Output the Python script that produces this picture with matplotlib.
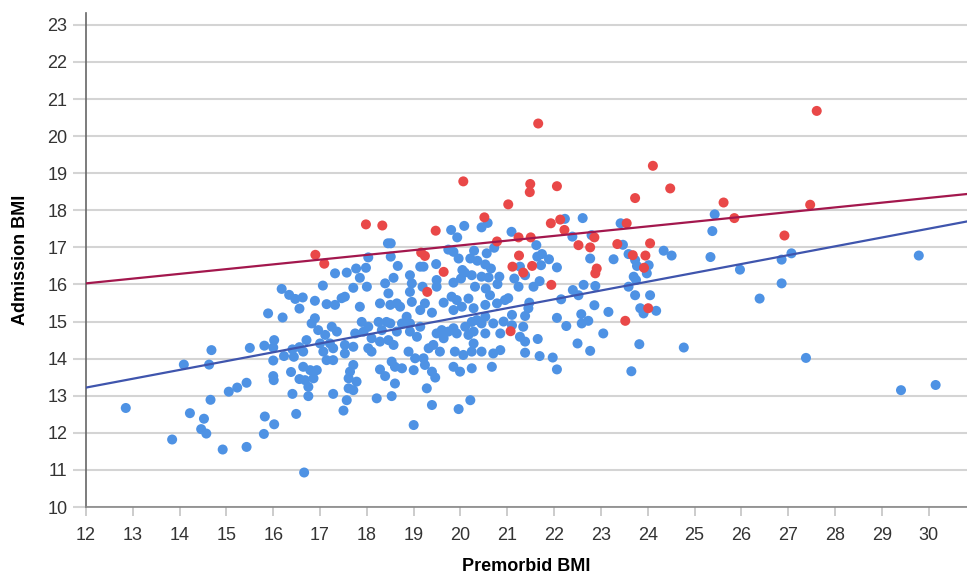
import matplotlib
matplotlib.use("Agg")
import matplotlib.pyplot as plt
import numpy as np

plt.rcParams['font.family'] = ['Liberation Sans', 'DejaVu Sans']

# Premorbid BMI vs admission BMI
blue_pts = [
    (12.85, 12.67), (13.84, 11.82), (14.22, 12.53), (14.52, 12.38), (14.46, 12.10),
    (14.57, 11.98), (14.66, 12.89), (14.92, 11.55), (15.05, 13.11), (15.23, 13.22),
    (15.43, 13.35), (15.43, 11.62), (15.82, 12.44), (15.80, 11.97), (16.02, 12.23),
    (16.01, 13.42), (16.41, 13.05), (16.49, 12.51), (16.66, 10.93),
    (16.18, 15.88), (16.34, 15.72), (16.47, 15.61), (16.56, 15.35), (15.89, 15.22),
    (16.20, 15.11), (16.02, 14.50), (15.81, 14.35), (16.00, 14.30), (15.50, 14.29),
    (14.68, 14.23), (16.41, 14.25), (16.56, 14.31), (16.23, 14.07), (16.44, 14.05),
    (16.00, 13.95), (14.09, 13.84), (14.63, 13.84), (16.38, 13.64), (16.00, 13.53),
    (16.56, 13.45),
    (19.80, 17.47), (20.08, 17.58), (19.93, 17.27), (20.45, 17.54), (20.58, 17.66),
    (18.45, 17.11), (18.51, 17.11), (18.03, 16.73), (18.51, 16.75), (18.66, 16.50),
    (17.32, 16.30), (17.57, 16.32), (17.77, 16.43), (17.98, 16.45), (17.85, 16.18),
    (17.06, 15.97), (17.71, 15.91), (18.00, 15.94), (18.39, 16.03), (18.57, 16.18),
    (18.92, 16.25), (18.96, 16.03), (19.14, 16.48), (19.21, 16.48), (19.48, 16.55),
    (19.19, 15.94), (19.49, 16.12), (19.49, 15.94), (19.74, 16.94), (19.85, 16.88),
    (19.96, 16.70), (20.21, 16.70), (20.29, 16.91), (20.36, 16.64), (20.56, 16.84),
    (20.72, 16.99), (20.53, 16.54), (20.65, 16.43), (20.04, 16.39), (20.09, 16.32),
    (20.24, 16.25), (20.45, 16.21), (20.60, 16.19), (20.83, 16.21), (19.85, 16.05),
    (20.01, 16.16), (20.31, 15.94), (20.54, 15.89), (20.79, 16.01),
    (16.63, 15.65), (16.89, 15.56), (17.14, 15.47), (17.32, 15.45), (17.46, 15.63),
    (17.53, 15.67), (17.85, 15.40), (18.28, 15.49), (18.46, 15.76), (18.50, 15.45),
    (18.64, 15.49), (18.71, 15.40), (18.92, 15.80), (18.96, 15.53), (19.14, 15.31),
    (19.24, 15.49), (19.39, 15.24), (19.64, 15.51), (19.81, 15.67), (19.92, 15.58),
    (19.85, 15.31), (20.03, 15.40), (20.17, 15.62), (20.28, 15.36), (20.63, 15.71),
    (20.53, 15.45), (20.78, 15.49),
    (16.82, 14.95), (16.89, 15.09), (16.71, 14.50), (16.64, 14.19), (16.96, 14.77),
    (17.11, 14.64), (17.25, 14.86), (17.36, 14.73), (17.00, 14.41), (17.21, 14.41),
    (17.28, 14.28), (17.07, 14.19), (17.28, 13.96), (17.14, 13.96), (17.53, 14.37),
    (17.53, 14.14), (17.75, 14.68), (17.71, 14.32), (17.89, 14.99), (17.93, 14.73),
    (18.03, 14.86), (18.10, 14.55), (18.03, 14.28), (18.10, 14.19), (18.25, 14.99),
    (18.32, 14.77), (18.42, 14.99), (18.28, 14.46), (18.46, 14.50), (18.57, 14.37),
    (18.50, 14.95), (18.64, 14.73), (18.75, 14.95), (18.85, 15.13), (18.92, 14.73),
    (19.07, 14.59), (18.92, 14.95), (19.14, 14.86), (18.89, 14.19), (19.03, 14.01),
    (19.21, 14.01), (19.32, 14.28), (19.42, 14.37), (19.49, 14.68), (19.60, 14.77),
    (19.64, 14.55), (19.74, 14.73), (19.85, 14.82), (19.92, 14.68), (19.88, 14.19),
    (19.56, 14.19), (20.10, 14.86), (20.17, 14.64), (20.24, 14.99), (20.28, 14.73),
    (20.35, 15.04), (20.45, 14.95), (20.53, 15.13), (20.70, 14.95), (20.53, 14.68),
    (20.28, 14.41), (20.45, 14.19), (20.06, 14.10), (20.24, 14.19), (20.70, 14.14),
    (16.64, 13.78), (16.79, 13.69), (16.93, 13.69), (16.68, 13.42), (16.86, 13.47),
    (16.75, 13.24), (16.75, 12.99), (17.28, 13.05), (17.50, 12.60), (17.57, 12.88),
    (17.61, 13.20), (17.71, 13.15), (17.61, 13.47), (17.64, 13.65), (17.71, 13.83),
    (17.78, 13.38), (18.21, 12.93), (18.28, 13.71), (18.39, 13.53), (18.53, 13.92),
    (18.60, 13.78), (18.60, 13.33), (18.53, 12.99), (18.75, 13.74), (19.00, 13.69),
    (19.24, 13.83), (19.39, 13.65), (19.46, 13.49), (19.28, 13.20), (19.39, 12.75),
    (19.00, 12.21), (19.85, 13.78), (19.99, 13.65), (20.24, 13.74), (20.67, 13.78),
    (20.21, 12.88), (19.96, 12.64),
    (22.23, 17.77), (22.61, 17.79), (21.09, 17.42), (22.39, 17.29), (22.80, 17.33),
    (23.42, 17.65), (23.47, 17.07), (21.62, 17.06), (21.74, 16.82), (21.64, 16.75),
    (21.89, 16.68), (21.72, 16.52), (22.06, 16.46), (22.77, 16.70), (23.27, 16.68),
    (23.59, 16.82), (23.73, 16.66), (23.77, 16.50), (24.02, 16.52), (23.98, 16.30),
    (24.34, 16.91), (24.51, 16.78), (21.15, 16.16), (21.27, 16.48), (21.38, 16.25),
    (21.69, 16.09), (21.56, 15.94), (22.63, 15.99), (22.88, 15.96), (22.40, 15.85),
    (23.70, 16.21), (23.75, 16.12), (23.59, 15.94), (21.24, 15.94),
    (21.02, 15.63), (20.95, 15.58), (21.47, 15.51), (21.45, 15.36), (21.38, 15.15),
    (21.10, 15.18), (20.92, 15.00), (21.10, 14.90), (21.34, 14.86), (20.85, 14.68),
    (21.27, 14.59), (21.38, 14.46), (20.85, 14.23), (21.38, 14.16), (21.65, 14.53),
    (21.69, 14.07), (21.97, 14.03), (22.06, 13.71), (22.06, 15.10), (22.26, 14.88),
    (22.15, 15.60), (22.52, 15.71), (22.58, 15.20), (22.59, 14.95), (22.73, 15.02),
    (22.86, 15.44), (22.50, 14.41), (22.77, 14.21), (23.05, 14.68), (23.16, 15.26),
    (23.73, 15.71), (24.05, 15.71), (23.84, 15.36), (23.91, 15.22), (24.18, 15.29),
    (23.82, 14.39), (23.65, 13.66), (24.77, 14.30),
    (25.43, 17.89), (25.38, 17.44), (25.34, 16.74), (25.97, 16.40), (26.86, 16.67),
    (27.07, 16.84), (26.86, 16.03), (29.79, 16.78), (26.39, 15.62), (27.38, 14.02),
    (29.41, 13.15), (30.15, 13.29),
]

red_pts = [
    (20.06, 18.78), (17.98, 17.62), (18.33, 17.59), (19.47, 17.45), (20.51, 17.81),
    (20.78, 17.16), (16.90, 16.80), (17.09, 16.56), (19.16, 16.86), (19.24, 16.77),
    (19.64, 16.34), (19.29, 15.80),
    (21.66, 20.34), (24.11, 19.20), (21.49, 18.71), (21.48, 18.49), (22.06, 18.65),
    (24.48, 18.59), (23.73, 18.33), (21.02, 18.16), (21.93, 17.65), (22.13, 17.75),
    (22.22, 17.47), (21.24, 17.27), (21.50, 17.27), (22.86, 17.27), (22.52, 17.06),
    (22.77, 17.00), (23.55, 17.65), (23.35, 17.09), (24.05, 17.11), (21.25, 16.78),
    (23.68, 16.79), (23.95, 16.78), (21.11, 16.48), (21.53, 16.50), (21.34, 16.32),
    (22.91, 16.43), (22.88, 16.30), (23.92, 16.45), (21.94, 15.99),
    (21.07, 14.74), (23.52, 15.02), (24.01, 15.36),
    (27.61, 20.68), (25.62, 18.21), (25.85, 17.79), (27.47, 18.15), (26.92, 17.32),
]

# fit lines (intercept, slope)
blue_fit = (10.364, 0.238)
red_fit = (14.494, 0.128)

x_ticks = list(range(12, 31))
y_ticks = list(range(10, 24))

fig = plt.figure(figsize=(9.67, 5.78), dpi=100, facecolor='white')
ax = fig.add_axes([86 / 967, 71 / 578, 881 / 967, 494 / 578])
ax.set_xlim(12, 30.82)
ax.set_ylim(10, 23.32)

bx, by = zip(*blue_pts)
rx, ry = zip(*red_pts)
ax.scatter(bx, by, s=52, color='#4e92e4', edgecolors='none', zorder=3)
ax.scatter(rx, ry, s=52, color='#e94848', edgecolors='none', zorder=3)

xs = np.array(ax.get_xlim())
ax.plot(xs, blue_fit[0] + blue_fit[1] * xs, color='#3f55ad', lw=1.6, zorder=4)
ax.plot(xs, red_fit[0] + red_fit[1] * xs, color='#a3174d', lw=1.6, zorder=4)

ax.set_xticks(x_ticks)
ax.set_yticks(y_ticks)
ax.grid(axis='y', color='#d4d4d4', lw=1.5, zorder=0)
ax.set_axisbelow(True)

for s in ['top', 'right']:
    ax.spines[s].set_visible(False)
ax.spines['left'].set_color('#666666')
ax.spines['left'].set_linewidth(1.2)
ax.spines['bottom'].set_color('#888888')
ax.spines['bottom'].set_linewidth(1.2)

ax.tick_params(axis='y', length=9.4, width=1.5, color='#d4d4d4', pad=4,
               labelsize=13, labelcolor='#333333')
ax.tick_params(axis='x', length=6.5, width=1.2, color='#c4c4c4', pad=8,
               labelsize=13, labelcolor='#333333')

ax.set_xlabel('Premorbid BMI', fontsize=13, fontweight='bold', labelpad=10)
ax.set_ylabel('Admission BMI', fontsize=13, fontweight='bold', labelpad=13)

fig.savefig('out.png', dpi=100, facecolor='white')
